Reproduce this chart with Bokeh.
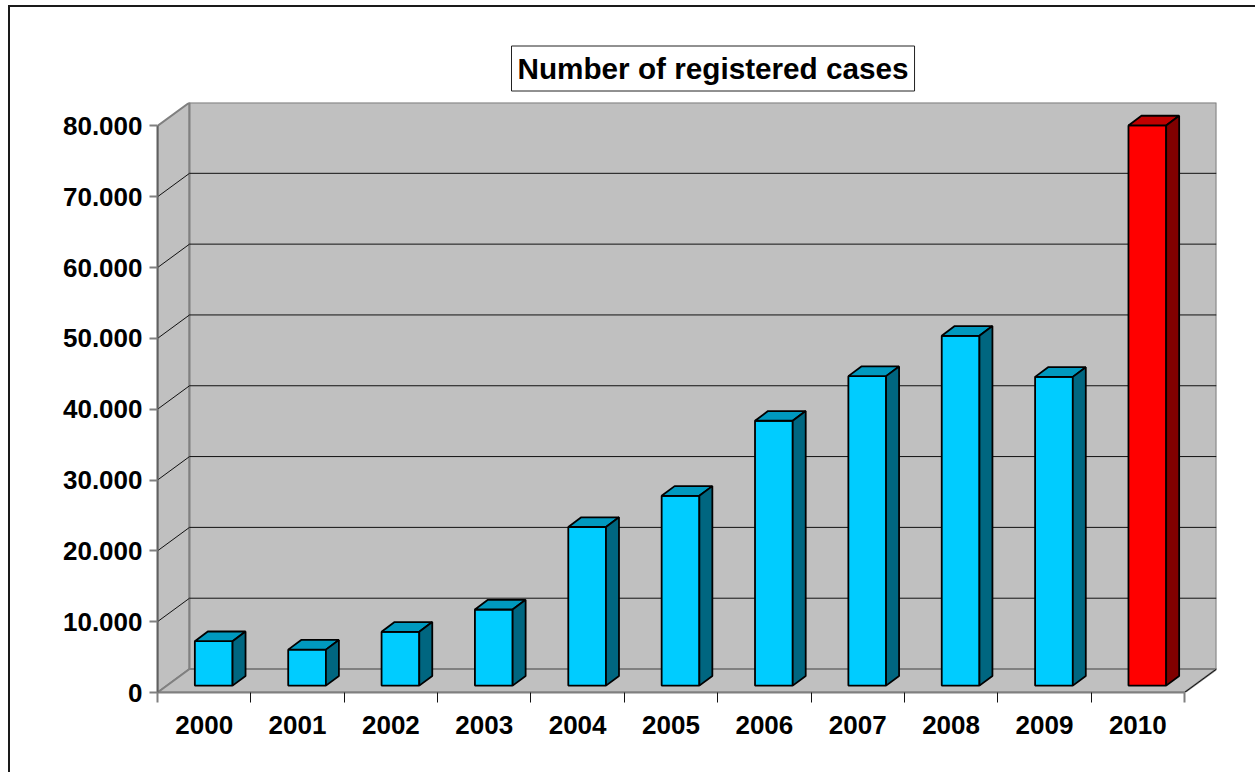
from bokeh.plotting import figure
from bokeh.embed import file_html
from bokeh.resources import INLINE
from bokeh.models import Range1d, LinearAxis, FixedTicker, Title

years = ["2000", "2001", "2002", "2003", "2004", "2005", "2006", "2007", "2008", "2009", "2010"]
cases = [6270, 5080, 7600, 10750, 22400, 26800, 37400, 43700, 49400, 43600, 79100]
value_ticks = [0, 10000, 20000, 30000, 40000, 50000, 60000, 70000, 80000]
value_labels = ["0", "10.000", "20.000", "30.000", "40.000", "50.000", "60.000", "70.000", "80.000"]
title_text = "Number of registered cases"

# 3D projection offsets, in data units
DX, DY = 0.343, 3316
BAR_W, BAR_DX, BAR_DY = 0.404, 0.139, 1369
SHIFT_X, SHIFT_Y = 0.102, 974
FONT = "Liberation Sans"
n = len(years)

p = figure(width=1247, height=767, output_backend="svg", toolbar_location=None,
           x_range=Range1d(0, n + DX), y_range=Range1d(0, 80000 + DY),
           min_border_left=147, min_border_right=41, min_border_top=95, min_border_bottom=82,
           x_axis_location=None, y_axis_location=None)
p.grid.visible = False
p.outline_line_color = None
p.styles = {"margin-left": "8px", "margin-top": "5px",
            "border-left": "2px solid #1a1a1a", "border-top": "2px solid #1a1a1a"}

p.title = Title(text=title_text, align="left", offset=354, standoff=23,
                text_font=FONT, text_font_style="bold", text_font_size="29.7px", text_color="black",
                background_fill_color="white", border_line_color="#222222", border_line_width=1,
                padding=6)

WALL = "#c0c0c0"
EDGE = "#808080"
top = 80000
# left wall, floor, back wall
p.patch([0, DX, DX, 0], [0, DY, top + DY, top], fill_color=WALL, line_color=EDGE, line_width=2)
p.patch([0, DX, n + DX, n], [0, DY, DY, 0], fill_color=WALL, line_color=EDGE, line_width=2)
p.quad(left=DX, right=n + DX, bottom=DY, top=top + DY, fill_color=WALL, line_color=EDGE, line_width=2)
# gridlines
gv = value_ticks[1:-1]
p.multi_line([[DX, n + DX] for v in gv], [[v + DY, v + DY] for v in gv], line_color="#111111", line_width=1)
p.multi_line([[0, DX] for v in gv], [[v, v + DY] for v in gv], line_color="#111111", line_width=1)
p.line([n, n + DX], [0, DY], line_color="#111111", line_width=1)

# bars
for i, (y, c) in enumerate(zip(years, cases)):
    last = y == "2010"
    front, cap, side = ("#ff0000", "#c00000", "#800000") if last else ("#00ccff", "#0099bf", "#006680")
    x0 = i + 0.5 - BAR_W / 2 + SHIFT_X
    x1 = x0 + BAR_W
    y0 = SHIFT_Y
    y1 = y0 + c
    p.patch([x0, x1, x1, x0], [y0, y0, y1, y1], fill_color=front, line_color="black", line_width=1.8)
    p.patch([x0, x1, x1 + BAR_DX, x0 + BAR_DX], [y1, y1, y1 + BAR_DY, y1 + BAR_DY],
            fill_color=cap, line_color="black", line_width=1.8)
    p.patch([x1, x1 + BAR_DX, x1 + BAR_DX, x1], [y0, y0 + BAR_DY, y1 + BAR_DY, y1],
            fill_color=side, line_color="black", line_width=1.8)

# value axis
ya = LinearAxis(ticker=FixedTicker(ticks=value_ticks), bounds=(0, top),
                major_label_overrides={v: s for v, s in zip(value_ticks, value_labels)})
ya.axis_line_color = "#606060"
ya.axis_line_width = 2
ya.major_tick_line_color = EDGE
ya.major_tick_line_width = 2
ya.major_tick_out = 8
ya.major_tick_in = 0
ya.minor_tick_line_color = None
ya.major_label_standoff = 7
ya.major_label_text_font = FONT
ya.major_label_text_font_style = "bold"
ya.major_label_text_font_size = "26px"
ya.major_label_text_color = "black"
p.add_layout(ya, "left")

# category axis: tick marks between years, grey at both ends
xa = LinearAxis(ticker=FixedTicker(ticks=list(range(1, n)), minor_ticks=[0, n]), bounds=(0, n))
xa.axis_line_color = EDGE
xa.axis_line_width = 2
xa.major_tick_line_color = "#111111"
xa.major_tick_line_width = 1
xa.major_tick_out = 10
xa.major_tick_in = 0
xa.minor_tick_line_color = EDGE
xa.minor_tick_line_width = 2
xa.minor_tick_out = 10
xa.minor_tick_in = 0
xa.major_label_text_font_size = "0px"
xa.major_label_text_color = None
p.add_layout(xa, "below")

# category labels
xl = LinearAxis(ticker=FixedTicker(ticks=[i + 0.5 for i in range(n)]),
                major_label_overrides={i + 0.5: s for i, s in enumerate(years)})
xl.axis_line_color = None
xl.major_tick_line_color = None
xl.minor_tick_line_color = None
xl.major_tick_out = 0
xl.major_tick_in = 0
xl.major_label_standoff = 13
xl.major_label_text_font = FONT
xl.major_label_text_font_style = "bold"
xl.major_label_text_font_size = "26px"
xl.major_label_text_color = "black"
p.add_layout(xl, "below")

open("out.html", "w").write(file_html(p, INLINE))
